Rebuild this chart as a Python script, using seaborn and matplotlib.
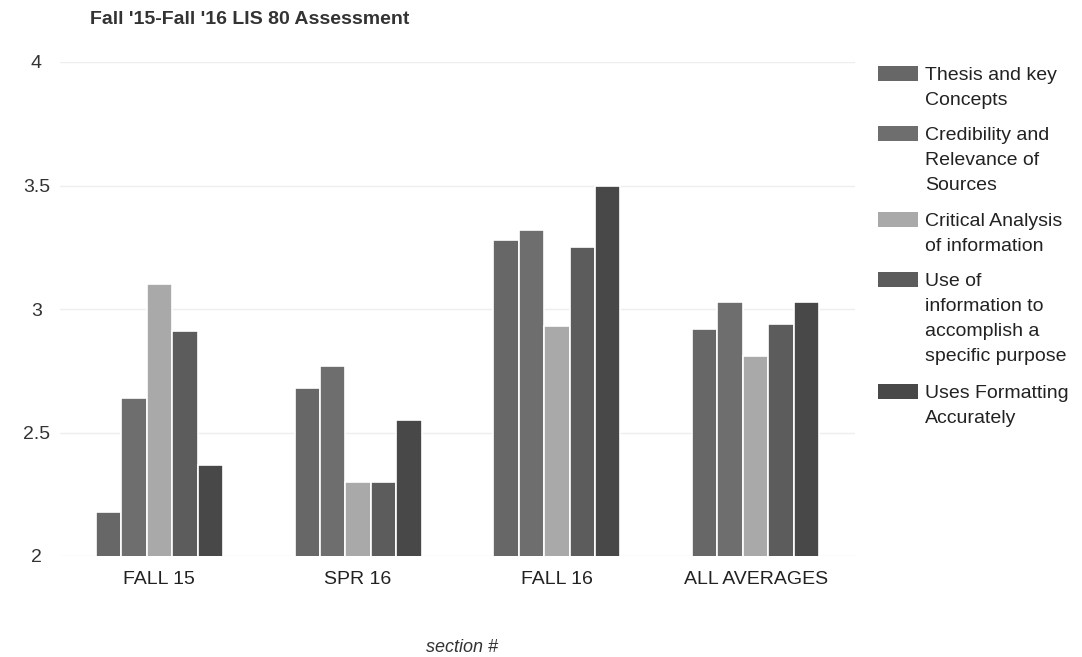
import matplotlib
matplotlib.use("Agg")
import matplotlib.pyplot as plt
from matplotlib.patches import Rectangle
import pandas as pd
import seaborn as sns

# Data
sections = ["FALL 15", "SPR 16", "FALL 16", "ALL AVERAGES"]
criteria = [
    "Thesis and key\nConcepts",
    "Credibility and\nRelevance of\nSources",
    "Critical Analysis\nof information",
    "Use of\ninformation to\naccomplish a\nspecific purpose",
    "Uses Formatting\nAccurately",
]
thesis = [2.18, 2.68, 3.28, 2.92]
credibility = [2.64, 2.77, 3.32, 3.03]
critical = [3.10, 2.30, 2.93, 2.81]
use_info = [2.91, 2.30, 3.25, 2.94]
formatting = [2.37, 2.55, 3.50, 3.03]
colors = ["#676767", "#6e6e6e", "#a9a9a9", "#5c5c5c", "#484848"]

rows = []
for crit, vals in zip(criteria, [thesis, credibility, critical, use_info, formatting]):
    for sec, v in zip(sections, vals):
        rows.append({"section": sec, "criterion": crit, "score": v})
df = pd.DataFrame(rows)

sns.set_style("white")
plt.rcParams["font.family"] = ["Liberation Sans", "DejaVu Sans"]

W, H = 1082, 657
fig = plt.figure(figsize=(W / 100, H / 100), dpi=100)
ax = fig.add_axes([60 / W, 1 - 556 / H, 795 / W, 494 / H])

sns.barplot(
    data=df, x="section", y="score", hue="criterion",
    order=sections, hue_order=criteria, palette=colors,
    width=0.64, edgecolor="white", linewidth=1.2, ax=ax, legend=False,
)

ax.set_ylim(2, 4)
ax.set_yticks([2, 2.5, 3, 3.5, 4])
ax.set_yticklabels(["2", "2.5", "3", "3.5", "4"], fontsize=14, color="#333333",
                   ha="center")
ax.tick_params(axis="x", labelsize=14, length=0, colors="#222222", pad=11)
ax.tick_params(axis="y", length=0, pad=17)
ax.yaxis.grid(True, color="#eeeeee", linewidth=1)
ax.set_axisbelow(True)
for s in ax.spines.values():
    s.set_visible(False)

ax.set_ylabel("")
ax.set_xlabel("section #", fontsize=13, style="italic", color="#333333", va="center")
ax.xaxis.set_label_coords(0.506, -0.186)

fig.text(90 / W, 1 - 19 / H, "Fall '15-Fall '16 LIS 80 Assessment", fontsize=14,
         fontweight="bold", color="#333333", va="center")

# Legend drawn by hand so the swatch sits beside the first line of each entry
line_h = 26
y = 73
for crit, col in zip(criteria, colors):
    fig.patches.append(Rectangle((878 / W, 1 - (y + 8) / H), 40 / W, 15 / H,
                                 transform=fig.transFigure, facecolor=col,
                                 edgecolor="none"))
    fig.text(925 / W, 1 - (y - 6) / H, crit, fontsize=14, color="#222222",
             va="top", ha="left", linespacing=1.62)
    y += line_h * (crit.count("\n") + 1) + 8

fig.savefig("out.png", dpi=100)
